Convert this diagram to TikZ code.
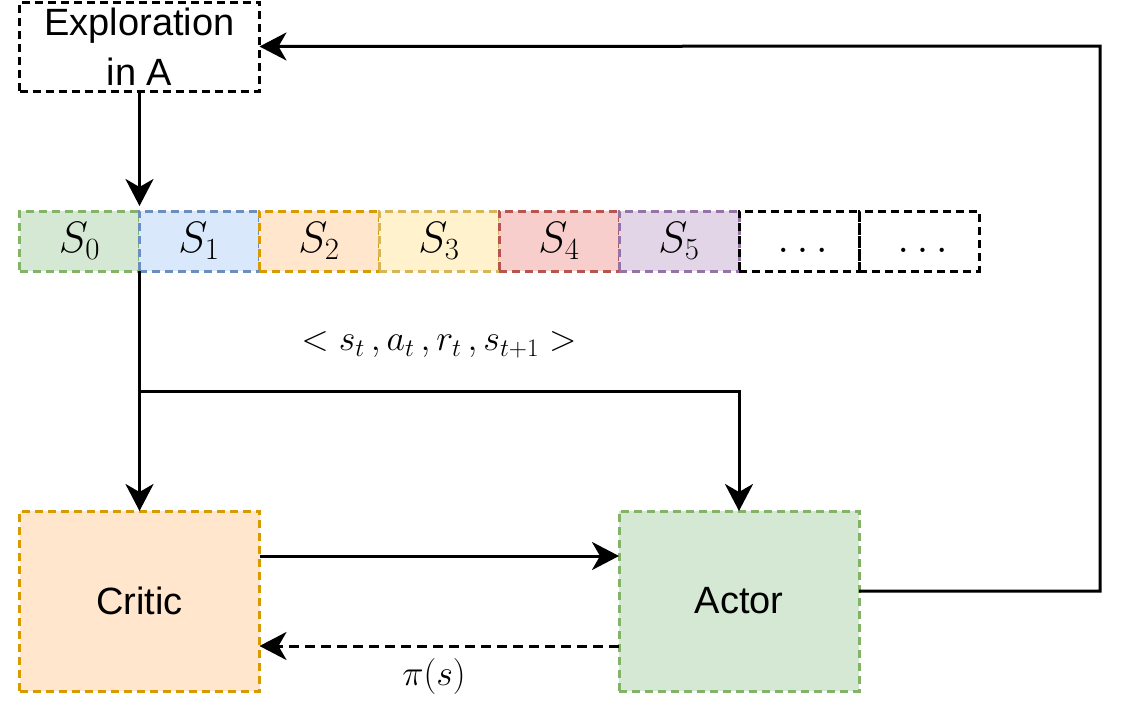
\RequirePackage{fix-cm}
\documentclass[tikz,border=0pt]{standalone}
\usepackage[no-math]{fontspec}
\setmainfont{Liberation Sans}
\usetikzlibrary{arrows.meta}
\definecolor{gfill}{HTML}{D5E8D4}\definecolor{gline}{HTML}{82B366}
\definecolor{bfill}{HTML}{DAE8FC}\definecolor{bline}{HTML}{6C8EBF}
\definecolor{ofill}{HTML}{FFE6CC}\definecolor{oline}{HTML}{D79B00}
\definecolor{yfill}{HTML}{FFF2CC}\definecolor{yline}{HTML}{D6B656}
\definecolor{rfill}{HTML}{F8CECC}\definecolor{rline}{HTML}{B85450}
\definecolor{pfill}{HTML}{E1D5E7}\definecolor{pline}{HTML}{9673A6}
\begin{document}
\begin{tikzpicture}[x=1pt,y=-1pt,
  box/.style={draw, line width=3pt, dash pattern=on 8pt off 5pt, inner sep=0pt, outer sep=0pt, anchor=center},
  bigbox/.style={box, minimum width=240pt, minimum height=180pt, font=\fontsize{38}{44}\selectfont},
  statebox/.style={box, minimum width=120pt, minimum height=60pt, font=\fontsize{44}{50}\selectfont},
  conn/.style={line width=3pt, -{Stealth[length=27pt,width=28pt,inset=8pt]}},
  lbl/.style={font=\fontsize{36}{40}\selectfont, inner sep=0pt}
]
\useasboundingbox (0,0) rectangle (1125,723);
\node[box, minimum width=240pt, minimum height=89pt, align=center, font=\fontsize{38}{50}\selectfont] (expl) at (139.5,46.5) {Exploration\\in A};
\node[statebox, fill=gfill, draw=gline] (s0) at (79.5,241) {$S_0$};
\node[statebox, fill=bfill, draw=bline] (s1) at (199,241) {$S_1$};
\node[statebox, fill=ofill, draw=oline] (s2) at (319,241) {$S_2$};
\node[statebox, fill=yfill, draw=yline] (s3) at (439,241) {$S_3$};
\node[statebox, fill=rfill, draw=rline] (s4) at (559,241) {$S_4$};
\node[statebox, fill=pfill, draw=pline] (s5) at (679,241) {$S_5$};
\node[statebox] (s6) at (799,241) {$\vphantom{S_0}\ldots$};
\node[statebox] (s7) at (919,241) {$\vphantom{S_0}\ldots$};
\node[bigbox, fill=ofill, draw=oline] (critic) at (139.5,601) {Critic};
\node[bigbox, fill=gfill, draw=gline] (actor) at (739,601) {Actor};
\node[lbl] (tup) at (439,345) {$< s_t\,, a_t\,, r_t\,, s_{t+1} >$};
\node[lbl] (pi) at (434,676) {$\pi(s)$};
\coordinate (br) at (139.5,391);
\coordinate (c1) at (1100,591);
\coordinate (c2) at (1100,46);
\draw[conn, shorten >=5pt] (expl.south -| s0.north east) -- (s0.north east);
\draw[conn] (s0.south east) -- (critic.north -| s0.south east);
\draw[conn] (br) -- (br -| actor.north) -- (actor.north);
\draw[conn] ([yshift=45pt]critic.east) -- ([yshift=45pt]actor.west);
\draw[conn, dash pattern=on 10pt off 6pt] ([yshift=-45pt]actor.west) -- ([yshift=-45pt]critic.east);
\draw[conn] ([yshift=10pt]actor.east) -- (c1) -- (c2) -- (expl.east);
\end{tikzpicture}
\end{document}
